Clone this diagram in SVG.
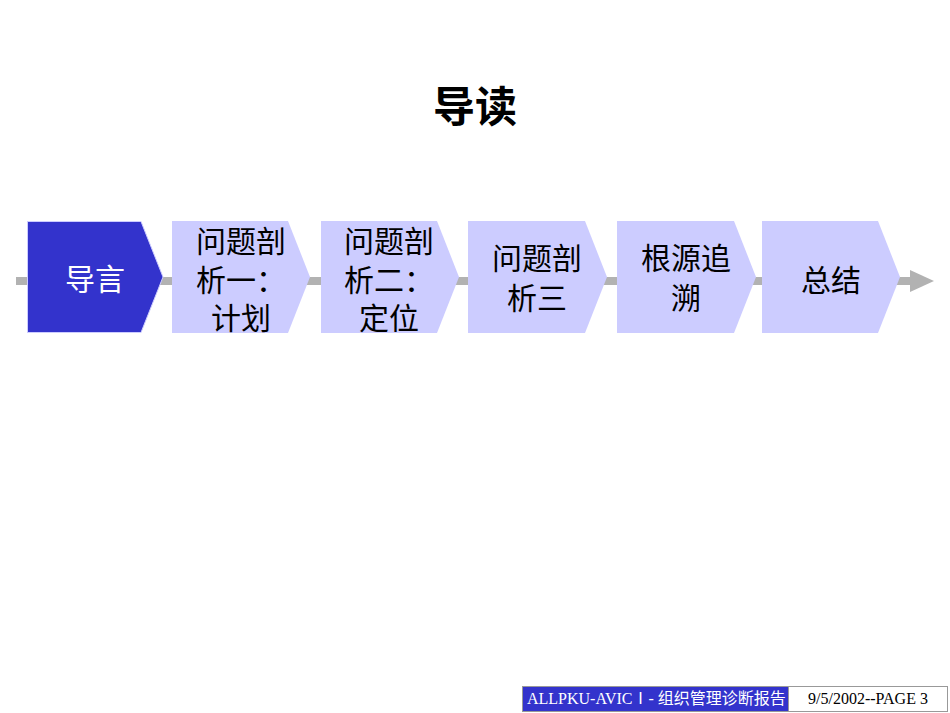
<svg xmlns="http://www.w3.org/2000/svg" width="950" height="713" viewBox="0 0 950 713">
<style>
.cjk{font-family:"Noto Sans CJK SC","Noto Sans",sans-serif;}
.step{fill:#CCCCFF;}
.cur{fill:#3333CC;stroke:#CCCCFF;stroke-width:1;}
.lbl{font-size:30px;text-anchor:middle;fill:#000;}
.lblw{font-size:30px;text-anchor:middle;fill:#fff;}
.ft{font-family:"Liberation Serif","Noto Sans CJK SC",serif;font-size:16px;}
</style>
<rect width="950" height="713" fill="#fff"/>
<text class="cjk" x="475" y="122" font-size="42" font-weight="bold" text-anchor="middle">导读</text>
<g id="connectors">
<rect x="16" y="277" width="896" height="8" fill="#B2B2B2"/>
<polygon points="910,270 934,281 910,292" fill="#B2B2B2"/>
</g>
<g id="n1"><polygon class="cur" points="27.5,221.5 141,221.5 163,277 141,332.5 27.5,332.5"/>
<text class="cjk lblw" x="95" y="290">导言</text></g>
<g id="n2"><polygon class="step" points="172,221 288,221 310,277 288,333 172,333"/>
<text class="cjk lbl" x="241" y="252">问题剖</text><text class="cjk lbl" x="241" y="291">析一：</text><text class="cjk lbl" x="241" y="329">计划</text></g>
<g id="n3"><polygon class="step" points="321,221 437,221 459,277 437,333 321,333"/>
<text class="cjk lbl" x="389" y="252">问题剖</text><text class="cjk lbl" x="389" y="291">析二：</text><text class="cjk lbl" x="389" y="329">定位</text></g>
<g id="n4"><polygon class="step" points="468,221 585,221 607,277 585,333 468,333"/>
<text class="cjk lbl" x="537" y="269">问题剖</text><text class="cjk lbl" x="537" y="309">析三</text></g>
<g id="n5"><polygon class="step" points="617,221 734,221 756,277 734,333 617,333"/>
<text class="cjk lbl" x="686" y="269">根源追</text><text class="cjk lbl" x="686" y="309">溯</text></g>
<g id="n6"><polygon class="step" points="762,221 878,221 900,277 878,333 762,333"/>
<text class="cjk lbl" x="831" y="291">总结</text></g>
<g id="footer">
<rect x="522.5" y="686.5" width="266" height="25" fill="#3333CC" stroke="#999" stroke-width="1"/>
<text class="ft" x="527" y="704" fill="#fff">ALLPKU-AVICⅠ- 组织管理诊断报告</text>
<rect x="788.5" y="686.5" width="159" height="25" fill="#fff" stroke="#999" stroke-width="1"/>
<text class="ft" x="868" y="704" fill="#000" text-anchor="middle">9/5/2002--PAGE 3</text>
</g>
</svg>
